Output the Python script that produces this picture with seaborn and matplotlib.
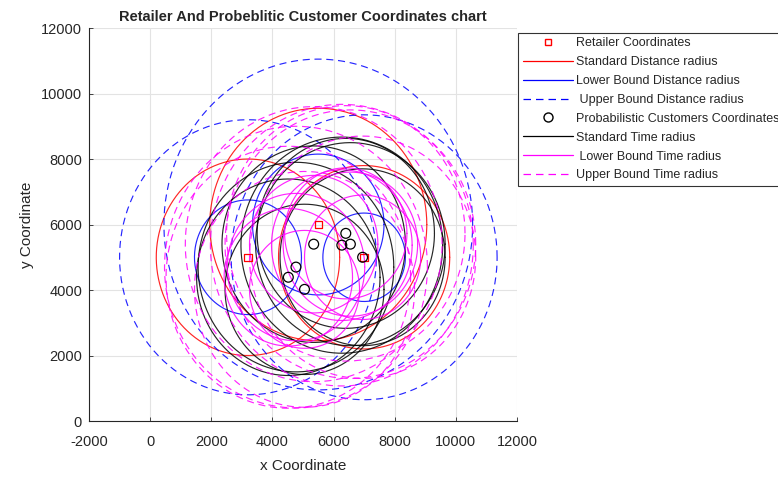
import numpy as np
import pandas as pd
import seaborn as sns
import matplotlib.pyplot as plt
from matplotlib.lines import Line2D

# retailer points and their distance radii
retailer_x = [3200, 5500, 7000]
retailer_y = [5000, 6000, 5000]
std_dist_r = [3000, 3550, 2800]
lower_dist_r = [1750, 2150, 1350]
upper_dist_r = [4200, 5050, 4350]

# probabilistic customers and their time radii
customer_x = [5350, 6400, 6270, 6550, 4770, 4520, 5050, 6950]
customer_y = [5400, 5730, 5370, 5400, 4700, 4390, 4020, 5000]
std_time_r = [3000, 2900, 3300, 3100, 3200, 3000, 2600, 2700]
lower_time_r = [2100, 2000, 2300, 2200, 2250, 2100, 1800, 1900]
upper_time_r = [4200, 3900, 4300, 4100, 4300, 4000, 3600, 3700]

x_ticks = [-2000, 0, 2000, 4000, 6000, 8000, 10000, 12000]
y_ticks = [0, 2000, 4000, 6000, 8000, 10000, 12000]

retail_df = pd.DataFrame({"x": retailer_x, "y": retailer_y})
cust_df = pd.DataFrame({"x": customer_x, "y": customer_y})

sns.set_theme(style="whitegrid")
plt.rcParams['font.family'] = ['Liberation Sans', 'DejaVu Sans']
plt.rcParams['axes.unicode_minus'] = False

theta = np.linspace(0, 2 * np.pi, 240)
dash = (0, (6, 4))

def draw_circles(ax, xs, ys, rs, color, ls):
    for cx, cy, r in zip(xs, ys, rs):
        ax.plot(cx + r * np.cos(theta), cy + r * np.sin(theta),
                color=color, linestyle=ls, linewidth=0.85, alpha=0.85, zorder=2)

fig = plt.figure(figsize=(7.78, 4.78), dpi=100)
ax = fig.add_axes([0.1144, 0.1192, 0.5501, 0.8222])

sns.scatterplot(data=retail_df, x="x", y="y", marker="s", s=28,
                facecolors="none", edgecolor="red", linewidth=0.9, ax=ax, zorder=3)
draw_circles(ax, retailer_x, retailer_y, std_dist_r, "red", "-")
draw_circles(ax, retailer_x, retailer_y, lower_dist_r, "blue", "-")
draw_circles(ax, retailer_x, retailer_y, upper_dist_r, "blue", dash)
sns.scatterplot(data=cust_df, x="x", y="y", marker="o", s=50,
                facecolors="none", edgecolor="black", linewidth=0.9, ax=ax, zorder=3)
draw_circles(ax, customer_x, customer_y, std_time_r, "black", "-")
draw_circles(ax, customer_x, customer_y, lower_time_r, "magenta", "-")
draw_circles(ax, customer_x, customer_y, upper_time_r, "magenta", dash)

ax.set_xlim(-2000, 12000)
ax.set_ylim(0, 12000)
ax.set_xticks(x_ticks)
ax.set_yticks(y_ticks)
ax.set_xticklabels([str(t) for t in x_ticks])
ax.set_yticklabels([str(t) for t in y_ticks])
ax.grid(True, color="#e3e3e3", linewidth=0.8)
ax.set_axisbelow(True)
for side in ["top", "right"]:
    ax.spines[side].set_visible(False)
for side in ["left", "bottom"]:
    ax.spines[side].set_color("#262626")
    ax.spines[side].set_linewidth(0.8)
ax.tick_params(direction="in", length=3, width=0.6, colors="#262626",
               labelsize=10.5, bottom=True, left=True)
ax.tick_params(axis="x", pad=10)
ax.tick_params(axis="y", pad=5)
ax.set_xlabel("x Coordinate", fontsize=11, color="#262626", labelpad=7)
ax.set_ylabel("y Coordinate", fontsize=11, color="#262626", labelpad=5)
ax.set_title("Retailer And Probeblitic Customer Coordinates chart",
             fontsize=10.5, fontweight="bold", pad=5)

handles = [
    Line2D([], [], linestyle="none", marker="s", markersize=5,
           markerfacecolor="none", markeredgecolor="red"),
    Line2D([], [], color="red", linewidth=0.9),
    Line2D([], [], color="blue", linewidth=0.9),
    Line2D([], [], color="blue", linewidth=0.9, linestyle=dash),
    Line2D([], [], linestyle="none", marker="o", markersize=6.5,
           markerfacecolor="none", markeredgecolor="black"),
    Line2D([], [], color="black", linewidth=0.9),
    Line2D([], [], color="magenta", linewidth=0.9),
    Line2D([], [], color="magenta", linewidth=0.9, linestyle=dash),
]
labels = ["Retailer Coordinates", "Standard Distance radius",
          "Lower Bound Distance radius", " Upper Bound Distance radius",
          "Probabilistic Customers Coordinates", "Standard Time radius",
          " Lower Bound Time radius", "Upper Bound Time radius"]
leg = fig.legend(handles, labels, loc="upper left", bbox_to_anchor=(0.666, 0.931),
                 fontsize=9, frameon=True, fancybox=False, borderpad=0.35,
                 handlelength=4, handletextpad=0.25, labelspacing=0.55,
                 borderaxespad=0)
leg.get_frame().set_edgecolor("black")
leg.get_frame().set_linewidth(0.8)

fig.savefig("out.png", dpi=100)
